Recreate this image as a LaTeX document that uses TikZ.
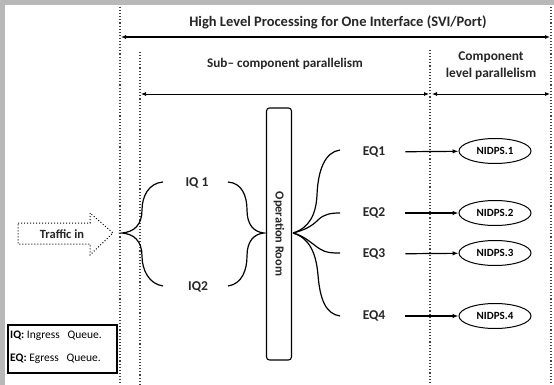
\documentclass[tikz,border=0pt]{standalone}
\usepackage{fontspec}
\setmainfont{Carlito}
\usetikzlibrary{arrows.meta,shapes.geometric}
\begin{document}
\begin{tikzpicture}[x=1pt,y=-1pt,
  dotline/.style={line width=1.1pt, dotted, black!75},
  bigtxt/.style={font=\bfseries\fontsize{13.2}{15}\selectfont, inner sep=0pt, text=black!85},
  eqtxt/.style={font=\bfseries\fontsize{13.5}{15}\selectfont, inner sep=0pt, text=black!85},
  nidps/.style={ellipse, draw, line width=1pt, minimum width=72pt, minimum height=25pt, inner sep=0pt, font=\bfseries\fontsize{11}{12}\selectfont},
  span/.style={{Latex[length=5pt,width=4pt]}-{Latex[length=5pt,width=4pt]}, line width=0.8pt},
  curly/.style={line width=1.2pt},
  eqarrow/.style={-{Latex[length=6pt,width=4.5pt]}, line width=1.2pt, shorten <=20pt}
]
\useasboundingbox (0,0) rectangle (554,385);
% frame shadow
\fill[black!28] (0,0) rectangle (554,385);
\fill[white] (5,5) rectangle (554,385);

% dotted separators
\coordinate (dA1) at (120,7);   \coordinate (dA2) at (120,385);
\coordinate (dB1) at (140,52);  \coordinate (dB2) at (140,385);
\coordinate (dC1) at (430,50);  \coordinate (dC2) at (430,385);
\coordinate (dD1) at (551,7);   \coordinate (dD2) at (551,385);
\draw[dotline] (dA1) -- (dA2);
\draw[dotline] (dB1) -- (dB2);
\draw[dotline] (dC1) -- (dC2);
\draw[dotline] (dD1) -- (dD2);

% titles and span arrows
\node[bigtxt, font=\bfseries\fontsize{14.5}{16}\selectfont] (title) at (338,22) {High Level Processing for One Interface (SVI/Port)};
\coordinate (tL) at (121,37); \coordinate (tR) at (550,37);
\draw[span, line width=1.6pt] (tL) -- (tR);

\node[bigtxt] (sub) at (285,64) {Sub– component parallelism};
\coordinate (sL) at (141,94); \coordinate (sR) at (429,94);
\draw[span] (sL) -- (sR);

\node[bigtxt, align=center, font=\bfseries\fontsize{13.4}{15}\selectfont] (comp) at (491,66) {Component\\[2pt]level parallelism};
\coordinate (cL) at (432,94); \coordinate (cR) at (550,94);
\draw[span] (cL) -- (cR);

% traffic in arrow
\draw[dotted, line width=1pt] (18,223) -- (90,223) -- (90,213) -- (113,233) -- (90,255) -- (90,244) -- (18,244) -- cycle;
\node[bigtxt, font=\bfseries\fontsize{12.5}{14}\selectfont] (traffic) at (62,234) {Traffic in};

% operation room
\node[draw, line width=1.1pt, rounded corners=3pt, minimum width=252pt, minimum height=25pt, inner sep=0pt,
      rotate=-90, bigtxt, font=\bfseries\fontsize{12.3}{14}\selectfont] (oproom) at (279,234) {Operation Room};

% IQ labels and braces
\node[eqtxt] (iq1) at (197,183) {IQ 1};
\node[eqtxt] (iq2) at (198,287) {IQ2};
\draw[curly] (163,182) .. controls (149,183) and (142,196) .. (142,210)
  .. controls (142,225) and (134,232) .. (122,233)
  .. controls (134,234) and (142,241) .. (142,256)
  .. controls (142,270) and (149,284) .. (163,286);
\draw[curly] (228,182) .. controls (242,183) and (247,196) .. (247,210)
  .. controls (247,225) and (254,232) .. (264,233)
  .. controls (254,234) and (247,241) .. (247,256)
  .. controls (247,270) and (242,284) .. (228,286);

% EQ labels
\node[eqtxt] (eq1) at (374,152) {EQ1};
\node[eqtxt] (eq2) at (374,213) {EQ2};
\node[eqtxt] (eq3) at (374,254) {EQ3};
\node[eqtxt] (eq4) at (374,316) {EQ4};

% fan
\coordinate (fan) at (293,233);
\draw[curly] (fan) .. controls (309,228) and (316,215) .. (317,195) .. controls (318,170) and (325,152) .. (340,150);
\draw[curly] (fan) .. controls (305,230) and (312,226) .. (318,220) .. controls (324,214) and (331,213) .. (340,213);
\draw[curly] (fan) .. controls (305,236) and (312,244) .. (320,249) .. controls (326,253) and (332,253) .. (340,253);
\draw[curly] (fan) .. controls (309,238) and (316,252) .. (318,275) .. controls (320,300) and (326,314) .. (340,316);

% NIDPS
\node[nidps] (n1) at (495,151) {NIDPS.1};
\node[nidps] (n2) at (495,213) {NIDPS.2};
\node[nidps] (n3) at (495,253) {NIDPS.3};
\node[nidps] (n4) at (495,316) {NIDPS.4};
\draw[eqarrow] (eq1) -- (n1);
\draw[eqarrow] (eq2) -- (n2);
\draw[eqarrow] (eq3) -- (n3);
\draw[eqarrow] (eq4) -- (n4);

% legend
\node[draw, line width=1.1pt, minimum width=109pt, minimum height=48pt, inner sep=0pt] (legend) at (62.5,349) {};
\node[anchor=west, inner sep=0pt, font=\fontsize{11.5}{13}\selectfont] (lgIQ) at (10,336) {\textbf{IQ:} Ingress\ \ \ Queue.};
\node[anchor=west, inner sep=0pt, font=\fontsize{11.5}{13}\selectfont] (lgEQ) at (10,359) {\textbf{EQ:} Egress\ \ \ Queue.};
\end{tikzpicture}
\end{document}
